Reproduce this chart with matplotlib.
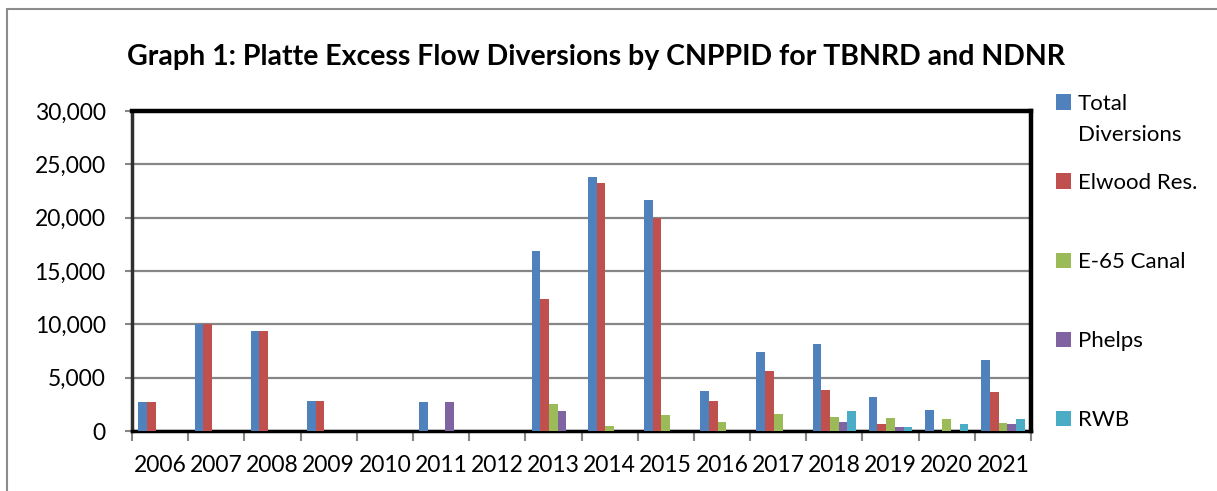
import matplotlib
matplotlib.use("Agg")
import matplotlib.pyplot as plt
from matplotlib.patches import Rectangle
import numpy as np

years = ["2006", "2007", "2008", "2009", "2010", "2011", "2012", "2013",
         "2014", "2015", "2016", "2017", "2018", "2019", "2020", "2021"]
total_diversions = [2700, 10000, 9350, 2850, 0, 2720, 0, 16900,
                    23850, 21650, 3730, 7370, 8200, 3200, 1960, 6610]
elwood_res = [2700, 10000, 9350, 2850, 0, 0, 0, 12380,
              23290, 20000, 2820, 5660, 3800, 700, 0, 3700]
e65_canal = [0, 0, 0, 0, 0, 0, 0, 2560,
             475, 1490, 820, 1580, 1270, 1230, 1140, 730]
phelps = [0, 0, 0, 0, 0, 2720, 0, 1870,
          0, 0, 0, 0, 890, 410, 0, 660]
rwb = [0, 0, 0, 0, 0, 0, 0, 0,
       0, 0, 0, 0, 1870, 410, 660, 1140]

series_labels = ["Total\nDiversions", "Elwood Res.", "E-65 Canal", "Phelps", "RWB"]
series_values = [total_diversions, elwood_res, e65_canal, phelps, rwb]
colors = ["#4F81BD", "#C0504D", "#9BBB59", "#8064A2", "#4BACC6"]
title = "Graph 1: Platte Excess Flow Diversions by CNPPID for TBNRD and NDNR"
yticks = [0, 5000, 10000, 15000, 20000, 25000, 30000]

FONT = ["Lato", "DejaVu Sans"]
plt.rcParams["font.family"] = FONT

W, H = 1217, 491
fig = plt.figure(figsize=(W / 100, H / 100), dpi=100)

# outer chart border
fig.patches.append(Rectangle((7 / W, -0.1), 1.2, 1 - 8.5 / H + 0.1,
                             transform=fig.transFigure, fill=False,
                             edgecolor="#8c8c8c", linewidth=1.5))

L, R, T, B = 132, 1031, 111, 431
ax = fig.add_axes([L / W, 1 - B / H, (R - L) / W, (B - T) / H])

x = np.arange(len(years))
bw = 0.155
for i, (vals, c) in enumerate(zip(series_values, colors)):
    ax.bar(x + (i - 2) * bw, vals, width=bw, color=c, edgecolor="none",
           zorder=3)

ax.set_xlim(-0.5, len(years) - 0.5)
ax.set_ylim(0, 30000)
ax.set_yticks(yticks)
ax.set_yticklabels([f"{v:,}" for v in yticks], fontsize=16.5)
ax.yaxis.grid(True, color="#868686", linewidth=1.6, zorder=0)
ax.set_axisbelow(True)

ax.set_xticks(x)
ax.set_xticklabels(years, fontsize=16.5)
ax.set_xticks(np.arange(-0.5, len(years), 1.0), minor=True)
ax.tick_params(axis="x", which="major", length=0, pad=17)
ax.tick_params(axis="x", which="minor", length=7, width=1.5, color="#868686")
ax.tick_params(axis="y", length=5, width=1.5, color="#868686", pad=14)

for s in ["top", "right"]:
    ax.spines[s].set_linewidth(3.2)
    ax.spines[s].set_color("black")
ax.spines["bottom"].set_linewidth(2.5)
ax.spines["bottom"].set_color("black")
ax.spines["left"].set_linewidth(2.5)
ax.spines["left"].set_color("#303030")

fig.text(596 / W, 1 - 57 / H, title, ha="center", va="center",
         fontsize=20.5, fontweight="bold")

# legend
leg_y = [102, 181, 260, 339, 418]
for lab, c, yy in zip(series_labels, colors, leg_y):
    fig.patches.append(Rectangle((1056 / W, 1 - (yy + 7.5) / H), 15 / W, 15 / H,
                                 transform=fig.transFigure, facecolor=c,
                                 edgecolor="none"))
    fig.text(1078 / W, 1 - (yy - 8) / H, lab, ha="left", va="top",
             fontsize=16, linespacing=1.7)

fig.savefig("out.png", dpi=100)
